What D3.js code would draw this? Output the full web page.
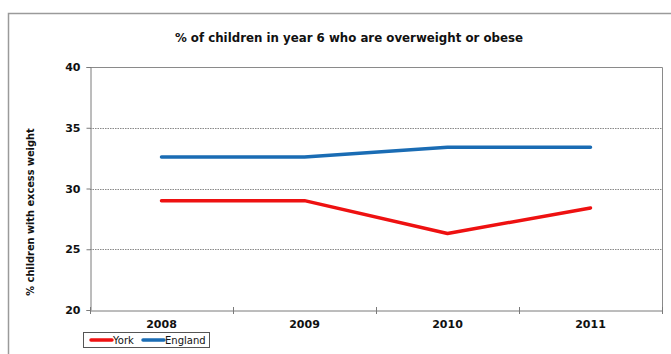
<!DOCTYPE html>
<html>
<head>
<meta charset="utf-8">
<script src="https://cdn.jsdelivr.net/npm/d3@7"></script>
<style>
  html, body { margin: 0; padding: 0; background: #fff; }
  svg { display: block; }
  text { font-family: "DejaVu Sans", Verdana, sans-serif; fill: #111; }
</style>
</head>
<body>
<svg id="chart" width="671" height="354"></svg>
<script>
// Year 6 excess weight, York vs England
const years = ["2008", "2009", "2010", "2011"];
const york = [29.0, 29.0, 26.3, 28.4];
const england = [32.6, 32.6, 33.4, 33.4];
const yTicks = [20, 25, 30, 35, 40];
const seriesNames = ["York", "England"];
const seriesColors = ["#ee1111", "#1a6cb4"];

const svg = d3.select("#chart");
const plot = { left: 90, right: 662, top: 67, bottom: 310 };

// outer chart frame
svg.append("rect")
  .attr("x", 8.5).attr("y", 13.5)
  .attr("width", 700).attr("height", 400)
  .attr("fill", "#fff").attr("stroke", "#9a9a9a").attr("stroke-width", 1.5);

// title
svg.append("text")
  .attr("x", 349).attr("y", 42)
  .attr("text-anchor", "middle")
  .attr("font-size", "11.8px").attr("font-weight", "bold")
  .text("% of children in year 6 who are overweight or obese");

const x = d3.scaleBand().domain(years).range([plot.left, plot.right]);
const y = d3.scaleLinear().domain([20, 40]).range([plot.bottom, plot.top]);

// dotted gridlines
svg.append("g")
  .selectAll("line")
  .data(yTicks.filter(t => t > 20 && t < 40))
  .join("line")
  .attr("x1", plot.left).attr("x2", plot.right)
  .attr("y1", d => Math.round(y(d)) + 0.5).attr("y2", d => Math.round(y(d)) + 0.5)
  .attr("stroke", "#888").attr("stroke-width", 1)
  .attr("stroke-dasharray", "1.5,1");

// plot area border (top + right)
svg.append("path")
  .attr("d", `M${plot.left},${plot.top + 0.5}H${plot.right + 0.5}V${plot.bottom}`)
  .attr("fill", "none").attr("stroke", "#8a8a8a").attr("stroke-width", 1);

// y axis
const yAxis = svg.append("g")
  .attr("transform", `translate(${plot.left + 0.5},0)`)
  .call(d3.axisLeft(y).tickValues(yTicks).tickSize(4).tickPadding(6));
yAxis.select(".domain").attr("stroke", "#7a7a7a");
yAxis.selectAll(".tick line").attr("stroke", "#7a7a7a");
yAxis.selectAll(".tick text")
  .attr("font-size", "11px").attr("font-weight", "bold")
  .attr("font-family", "DejaVu Sans, Verdana, sans-serif").attr("fill", "#111");

// x axis with ticks at category boundaries
const xAxis = svg.append("g")
  .attr("transform", `translate(0,${plot.bottom + 0.5})`)
  .call(d3.axisBottom(x).tickSize(0).tickPadding(10));
xAxis.select(".domain").attr("stroke", "#7a7a7a");
xAxis.selectAll(".tick text")
  .attr("font-size", "11px").attr("font-weight", "bold")
  .attr("font-family", "DejaVu Sans, Verdana, sans-serif").attr("fill", "#111");
svg.append("g")
  .selectAll("line")
  .data(years.map(d => x(d)).concat([plot.right]))
  .join("line")
  .attr("x1", d => Math.round(d) + 0.5).attr("x2", d => Math.round(d) + 0.5)
  .attr("y1", plot.bottom - 3).attr("y2", plot.bottom + 4)
  .attr("stroke", "#7a7a7a");

// y axis title
svg.append("text")
  .attr("transform", "translate(34,212) rotate(-90)")
  .attr("text-anchor", "middle")
  .attr("font-size", "9.8px").attr("font-weight", "bold")
  .text("% children with excess weight");

// series lines
const line = d3.line()
  .x((d, i) => x(years[i]) + x.bandwidth() / 2)
  .y(d => y(d));

[york, england].forEach((vals, i) => {
  svg.append("path")
    .datum(vals)
    .attr("d", line)
    .attr("fill", "none")
    .attr("stroke", seriesColors[i])
    .attr("stroke-width", 3.5)
    .attr("stroke-linejoin", "round")
    .attr("stroke-linecap", "round");
});

// legend
const lg = svg.append("g").attr("transform", "translate(83,332)");
lg.append("rect")
  .attr("x", 0.5).attr("y", 0.5).attr("width", 126).attr("height", 15)
  .attr("fill", "#fff").attr("stroke", "#555").attr("stroke-width", 1);
const legendX = [8, 60];
seriesNames.forEach((name, i) => {
  lg.append("line")
    .attr("x1", legendX[i]).attr("x2", legendX[i] + 21)
    .attr("y1", 8).attr("y2", 8)
    .attr("stroke", seriesColors[i]).attr("stroke-width", 3.5)
    .attr("stroke-linecap", "round");
  lg.append("text")
    .attr("x", legendX[i] + 22).attr("y", 12)
    .attr("font-size", "10px")
    .text(name);
});
</script>
</body>
</html>
